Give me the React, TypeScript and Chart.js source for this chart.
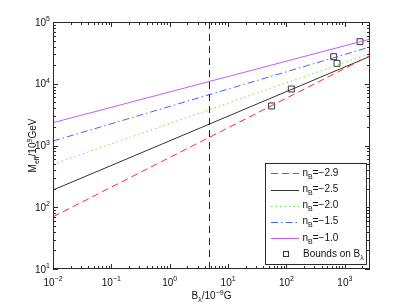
import React, { useEffect, useRef } from "react";
import { Chart, registerables } from "chart.js";

Chart.register(...registerables);

// ---- Data ----
const xEnds = [0.01, 2700];
const nBLabels = ["−2.9", "−2.5", "−2.0", "−1.5", "−1.0"];
const seriesN29 = [70, 28500];
const seriesN25 = [190, 27800];
const seriesN20 = [497, 30700];
const seriesN15 = [1180, 39400];
const seriesN10 = [2340, 52800];
const boundsX = [55.7, 121, 645, 735, 1820];
const boundsY = [4370, 8220, 27400, 21400, 48000];
const markerX = 4.8;
const xTickExps = [-2, -1, 0, 1, 2, 3];
const yTickExps = [1, 2, 3, 4, 5];
const yMin = 10;
const yMax = 100000;

const FONT = '"Liberation Sans", Arial, Helvetica, sans-serif';
const BASE = 10;
const SMALL = 7;

const seriesStyles = [
  { color: "#ff2a2a", dash: [7, 4] },
  { color: "#323232", dash: [] },
  { color: "#64e63c", dash: [1.5, 3] },
  { color: "#4664ff", dash: [7, 3, 1.5, 3] },
  { color: "#c85aff", dash: [] },
];

const seriesValues = [seriesN29, seriesN25, seriesN20, seriesN15, seriesN10];

type Part = { t: string; mode?: "sup" | "sub" };

function partsWidth(ctx: CanvasRenderingContext2D, parts: Part[]) {
  let w = 0;
  for (const p of parts) {
    ctx.font = `${p.mode ? SMALL : BASE}px ${FONT}`;
    w += ctx.measureText(p.t).width;
  }
  return w;
}

function drawParts(ctx: CanvasRenderingContext2D, parts: Part[], x: number, y: number) {
  let cx = x;
  for (const p of parts) {
    ctx.font = `${p.mode ? SMALL : BASE}px ${FONT}`;
    const dy = p.mode === "sup" ? -BASE * 0.45 : p.mode === "sub" ? BASE * 0.3 : 0;
    ctx.fillText(p.t, cx, y + dy);
    cx += ctx.measureText(p.t).width;
  }
}

function expStr(e: number) {
  return e < 0 ? "−" + String(-e) : String(e);
}

const decorPlugin = {
  id: "decor",
  afterDatasetsDraw(chart: any) {
    const ctx: CanvasRenderingContext2D = chart.ctx;
    const { left, right, top, bottom } = chart.chartArea;
    const xs = chart.scales.x;
    const ys = chart.scales.y;
    ctx.save();
    ctx.strokeStyle = "#2a2a2a";
    ctx.lineWidth = 1;
    ctx.setLineDash([]);
    // frame
    ctx.strokeRect(left + 0.5, top + 0.5, right - left - 1, bottom - top - 1);
    // ticks
    ctx.beginPath();
    for (let k = -2; k <= 3; k++) {
      for (let m = 1; m <= 9; m++) {
        const v = m * Math.pow(10, k);
        if (v < xEnds[0] - 1e-12 || v > xEnds[1]) continue;
        const px = Math.round(xs.getPixelForValue(v)) + 0.5;
        const len = m === 1 ? 5 : 3;
        ctx.moveTo(px, bottom);
        ctx.lineTo(px, bottom - len);
        ctx.moveTo(px, top);
        ctx.lineTo(px, top + len);
      }
    }
    for (let k = 1; k <= 5; k++) {
      for (let m = 1; m <= 9; m++) {
        const v = m * Math.pow(10, k);
        if (v < yMin || v > yMax) continue;
        const py = Math.round(ys.getPixelForValue(v)) + 0.5;
        const len = m === 1 ? 5 : 3;
        ctx.moveTo(left, py);
        ctx.lineTo(left + len, py);
        ctx.moveTo(right, py);
        ctx.lineTo(right - len, py);
      }
    }
    ctx.stroke();

    // tick labels
    ctx.fillStyle = "#111";
    ctx.textBaseline = "alphabetic";
    ctx.textAlign = "left";
    for (const e of xTickExps) {
      const px = xs.getPixelForValue(Math.pow(10, e));
      const parts: Part[] = [{ t: "10" }, { t: expStr(e), mode: "sup" }];
      const w = partsWidth(ctx, parts);
      drawParts(ctx, parts, px - w / 2, 285.5);
    }
    for (const e of yTickExps) {
      const py = ys.getPixelForValue(Math.pow(10, e));
      const parts: Part[] = [{ t: "10" }, { t: expStr(e), mode: "sup" }];
      const w = partsWidth(ctx, parts);
      drawParts(ctx, parts, left - 3 - w, py + 3.5);
    }

    // x title
    const xt: Part[] = [
      { t: "B" },
      { t: "λ", mode: "sub" },
      { t: "/10" },
      { t: "−9", mode: "sup" },
      { t: "G" },
    ];
    const xw = partsWidth(ctx, xt);
    drawParts(ctx, xt, (left + right) / 2 - xw / 2, 299);

    // y title
    const yt: Part[] = [
      { t: "M" },
      { t: "eff", mode: "sub" },
      { t: "/10" },
      { t: "9", mode: "sup" },
      { t: "GeV" },
    ];
    const yw = partsWidth(ctx, yt);
    ctx.save();
    ctx.translate(36, (top + bottom) / 2);
    ctx.rotate(-Math.PI / 2);
    drawParts(ctx, yt, -yw / 2, 0);
    ctx.restore();

    // legend
    const lx = 265, ly = 163, lw = 101, lh = 101;
    ctx.fillStyle = "#fff";
    ctx.fillRect(lx, ly, lw, lh);
    ctx.strokeStyle = "#2a2a2a";
    ctx.strokeRect(lx + 0.5, ly + 0.5, lw, lh);
    const rowY = [173.3, 189.5, 205.7, 221.9, 238.1, 254.3];
    for (let i = 0; i < nBLabels.length; i++) {
      const st = seriesStyles[i];
      ctx.save();
      ctx.strokeStyle = st.color;
      ctx.lineWidth = 1;
      ctx.setLineDash(st.dash);
      ctx.beginPath();
      ctx.moveTo(271, Math.round(rowY[i]) + 0.5);
      ctx.lineTo(299, Math.round(rowY[i]) + 0.5);
      ctx.stroke();
      ctx.restore();
      ctx.fillStyle = "#111";
      drawParts(ctx, [{ t: "n" }, { t: "B", mode: "sub" }, { t: "=" + nBLabels[i] }], 302.5, rowY[i] + 2.5);
    }
    ctx.strokeStyle = "#333";
    ctx.setLineDash([]);
    ctx.strokeRect(283.5, Math.round(rowY[5]) - 2.5, 5, 5);
    ctx.fillStyle = "#111";
    drawParts(ctx, [{ t: "Bounds on B" }, { t: "λ", mode: "sub" }], 303, rowY[5] + 2.5);
    ctx.restore();
  },
};

export default function App() {
  const ref = useRef<HTMLCanvasElement | null>(null);
  useEffect(() => {
    if (!ref.current) return;
    const lineSets = seriesValues.map((vals, i) => ({
      label: "n_B=" + nBLabels[i],
      data: xEnds.map((x, j) => ({ x, y: vals[j] })),
      showLine: true,
      borderColor: seriesStyles[i].color,
      borderDash: seriesStyles[i].dash,
      borderWidth: 1,
      pointRadius: 0,
      fill: false,
    }));
    const chart = new Chart(ref.current, {
      type: "scatter",
      data: {
        datasets: [
          {
            label: "marker",
            data: [
              { x: markerX, y: yMin },
              { x: markerX, y: yMax },
            ],
            showLine: true,
            borderColor: "#222",
            borderDash: [7, 5],
            borderWidth: 1,
            pointRadius: 0,
          },
          ...lineSets,
          {
            label: "Bounds on B",
            data: boundsX.map((x, i) => ({ x, y: boundsY[i] })),
            showLine: false,
            pointStyle: "rect",
            pointRadius: 4.2,
            pointBorderColor: "#333",
            pointBackgroundColor: "rgba(0,0,0,0)",
            pointBorderWidth: 1,
          },
        ] as any,
      },
      options: {
        animation: false,
        responsive: false,
        devicePixelRatio: 1,
        layout: { padding: { left: 53, right: 39, top: 22, bottom: 39 } },
        plugins: { legend: { display: false }, tooltip: { enabled: false } },
        scales: {
          x: { type: "logarithmic", min: xEnds[0], max: xEnds[1], display: false },
          y: { type: "logarithmic", min: yMin, max: yMax, display: false },
        },
      },
      plugins: [decorPlugin],
    });
    return () => chart.destroy();
  }, []);
  return (
    <div style={{ position: "absolute", left: 0, top: 0, width: 409, height: 308, background: "#fff" }}>
      <canvas ref={ref} width={409} height={308} />
    </div>
  );
}
